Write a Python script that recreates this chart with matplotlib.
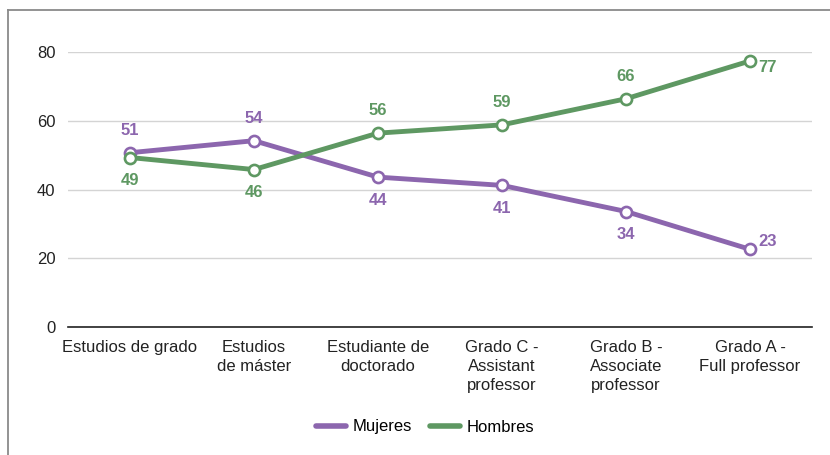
import matplotlib
matplotlib.use('Agg')
import matplotlib.pyplot as plt
from matplotlib.lines import Line2D

plt.rcParams['font.family'] = ['Liberation Sans', 'DejaVu Sans']

# datos
categorias = ['Estudios de grado', 'Estudios\nde máster', 'Estudiante de\ndoctorado',
              'Grado C -\nAssistant\nprofessor', 'Grado B -\nAssociate\nprofessor',
              'Grado A -\nFull professor']
mujeres = [50.7, 54.2, 43.6, 41.2, 33.6, 22.6]
hombres = [49.3, 45.8, 56.4, 58.8, 66.4, 77.4]
# posición de cada etiqueta: arriba / abajo / derecha
pos_mujeres = ['up', 'up', 'down', 'down', 'down', 'right']
pos_hombres = ['down', 'down', 'up', 'up', 'up', 'right']
yticks = [0, 20, 40, 60, 80]

c_muj = '#8c66ae'
c_hom = '#5e9862'

fig = plt.figure(figsize=(8.3, 4.55), dpi=100)
ax = fig.add_axes([68 / 830, 1 - 327 / 455, 744 / 830, 275 / 455])

x = list(range(len(categorias)))
for vals, pos, col, lab in [(mujeres, pos_mujeres, c_muj, 'Mujeres'),
                            (hombres, pos_hombres, c_hom, 'Hombres')]:
    ax.plot(x, vals, color=col, linewidth=3.5, marker='o', markersize=8,
            markerfacecolor='white', markeredgecolor=col, markeredgewidth=1.9,
            label=lab, zorder=3, solid_capstyle='round')
    for xi, v, p in zip(x, vals, pos):
        txt = str(round(v))
        if p == 'up':
            ax.annotate(txt, (xi, v), xytext=(0, 16), textcoords='offset points',
                        ha='center', va='center', color=col, fontsize=12, fontweight='bold')
        elif p == 'down':
            ax.annotate(txt, (xi, v), xytext=(0, -16.5), textcoords='offset points',
                        ha='center', va='center', color=col, fontsize=12, fontweight='bold')
        else:
            dy = -4.5 if v > 50 else 5.5
            ax.annotate(txt, (xi, v), xytext=(6, dy), textcoords='offset points',
                        ha='left', va='center', color=col, fontsize=12, fontweight='bold')

ax.set_xlim(-0.5, len(categorias) - 0.5)
ax.set_ylim(0, 80)
ax.set_yticks(yticks)
ax.set_xticks(x)
ax.set_xticklabels(categorias, fontsize=12, linespacing=1.33, color='#222222')
ax.tick_params(axis='y', length=0, pad=9, labelsize=12, labelcolor='#222222')
ax.tick_params(axis='x', length=0, pad=9.5)
ax.yaxis.grid(True, color='#d4d4d4', linewidth=1)
ax.set_axisbelow(True)
for s in ['top', 'right', 'left']:
    ax.spines[s].set_visible(False)
ax.spines['bottom'].set_color('#222222')
ax.spines['bottom'].set_linewidth(1.2)

handles = [Line2D([], [], color=c_muj, linewidth=4, solid_capstyle='round'),
           Line2D([], [], color=c_hom, linewidth=4, solid_capstyle='round')]
fig.legend(handles, ['Mujeres', 'Hombres'], loc='center',
           bbox_to_anchor=(0.512, 1 - 427 / 455), ncol=2,
           frameon=False, fontsize=12, handlelength=1.8, handletextpad=0.4,
           columnspacing=1.1)

# marco gris del gráfico
fig.add_artist(Line2D([8 / 830, 8 / 830], [0, 1 - 10 / 455], color='#8a8a8a', linewidth=1.3))
fig.add_artist(Line2D([8 / 830, 1], [1 - 10 / 455, 1 - 10 / 455], color='#8a8a8a', linewidth=1.3))

fig.savefig('out.png', dpi=100)
